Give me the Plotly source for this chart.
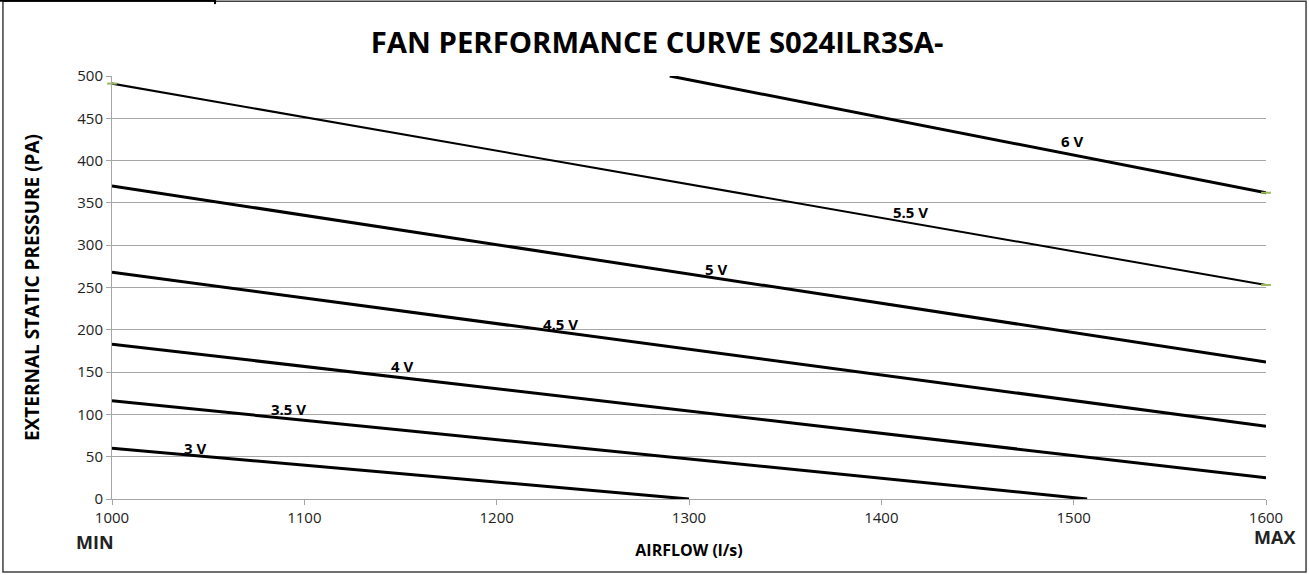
import plotly.graph_objects as go

# Data (airflow l/s vs external static pressure Pa)
curve_names = ["3 V", "3.5 V", "4 V", "4.5 V", "5 V", "5.5 V", "6 V"]
curve_x = [
    [1000, 1300],
    [1000, 1507],
    [1000, 1600],
    [1000, 1600],
    [1000, 1600],
    [1000, 1600],
    [1290, 1600],
]
curve_y = [
    [60, 0],
    [116, 0],
    [183, 25],
    [268, 86],
    [370, 162],
    [491, 253],
    [500, 362],
]
label_x = [1043, 1092, 1151, 1233, 1314, 1415, 1499]
label_y = [60, 106, 157, 207, 272, 339, 423]
curve_widths = [3, 3, 3, 3, 3, 2, 3]

# small green end markers visible in the reference
mark_x = [1000, 1600, 1600]
mark_y = [491, 253, 362]

x_ticks = [1000, 1100, 1200, 1300, 1400, 1500, 1600]
y_ticks = [0, 50, 100, 150, 200, 250, 300, 350, 400, 450, 500]

FONT = "Open Sans"

fig = go.Figure()
for name, xs, ys, w in zip(curve_names, curve_x, curve_y, curve_widths):
    fig.add_trace(go.Scatter(x=xs, y=ys, mode="lines", name=name,
                             line=dict(color="black", width=w), showlegend=False))

fig.add_trace(go.Scatter(x=mark_x, y=mark_y, mode="markers", showlegend=False,
                         marker=dict(symbol="line-ew", size=7,
                                     line=dict(color="#9bbb59", width=2)),
                         cliponaxis=False))

for name, lx, ly in zip(curve_names, label_x, label_y):
    fig.add_annotation(x=lx, y=ly, text="<b>%s</b>" % name, showarrow=False,
                       font=dict(family=FONT, size=15, color="black"))

fig.add_annotation(xref="paper", yref="paper", x=-0.033, y=-0.102, xanchor="left",
                   yanchor="middle", text="<b>MIN</b>", showarrow=False,
                   font=dict(family=FONT, size=18, color="#222"))
fig.add_annotation(xref="paper", yref="paper", x=1.0266, y=-0.09, xanchor="right",
                   yanchor="middle", text="<b>MAX</b>", showarrow=False,
                   font=dict(family=FONT, size=18, color="#222"))

# outer chart border and top cell line
fig.add_shape(type="rect", xref="paper", yref="paper",
              x0=-0.0945, x1=1.0347, y0=-0.1726, y1=1.177,
              line=dict(color="#404040", width=1.5))
fig.add_shape(type="line", xref="paper", yref="paper",
              x0=-0.1, x1=0.0893, y0=1.1785, y1=1.1785,
              line=dict(color="black", width=2.5))
fig.add_shape(type="line", xref="paper", yref="paper",
              x0=0.0893, x1=0.0893, y0=1.1797, y1=1.170,
              line=dict(color="black", width=2))

fig.update_layout(
    width=1309, height=575,
    margin=dict(l=112, r=43, t=76, b=76),
    paper_bgcolor="white", plot_bgcolor="white",
    title=dict(text="<b>FAN PERFORMANCE CURVE S024ILR3SA-</b>", x=0.502, xanchor="center",
               y=0.925, yanchor="middle",
               font=dict(family=FONT, size=29.3, color="black")),
    font=dict(family=FONT, color="#222"),
    xaxis=dict(range=[1000, 1600], tickvals=x_ticks, showgrid=False,
               showline=True, linecolor="#a6a6a6", linewidth=1,
               ticks="outside", ticklen=5, tickcolor="#a6a6a6",
               tickfont=dict(family=FONT, size=15, color="#222"),
               title=dict(text="<b>AIRFLOW (l/s)</b>", standoff=18,
                          font=dict(family=FONT, size=16, color="black")),
               zeroline=False, fixedrange=True),
    yaxis=dict(range=[0, 500], tickvals=y_ticks, showgrid=True,
               gridcolor="#a6a6a6", gridwidth=1,
               showline=True, linecolor="#a6a6a6", linewidth=1,
               ticks="outside", ticklen=5, tickcolor="#a6a6a6",
               tickfont=dict(family=FONT, size=15, color="#222"),
               title=dict(text="<b>EXTERNAL STATIC PRESSURE (PA)</b>", standoff=32,
                          font=dict(family=FONT, size=19, color="black")),
               zeroline=False, fixedrange=True),
)

fig.write_html("out.html", config={"displayModeBar": False},
               post_script="document.body.style.margin='0';document.body.style.overflow='hidden';")
